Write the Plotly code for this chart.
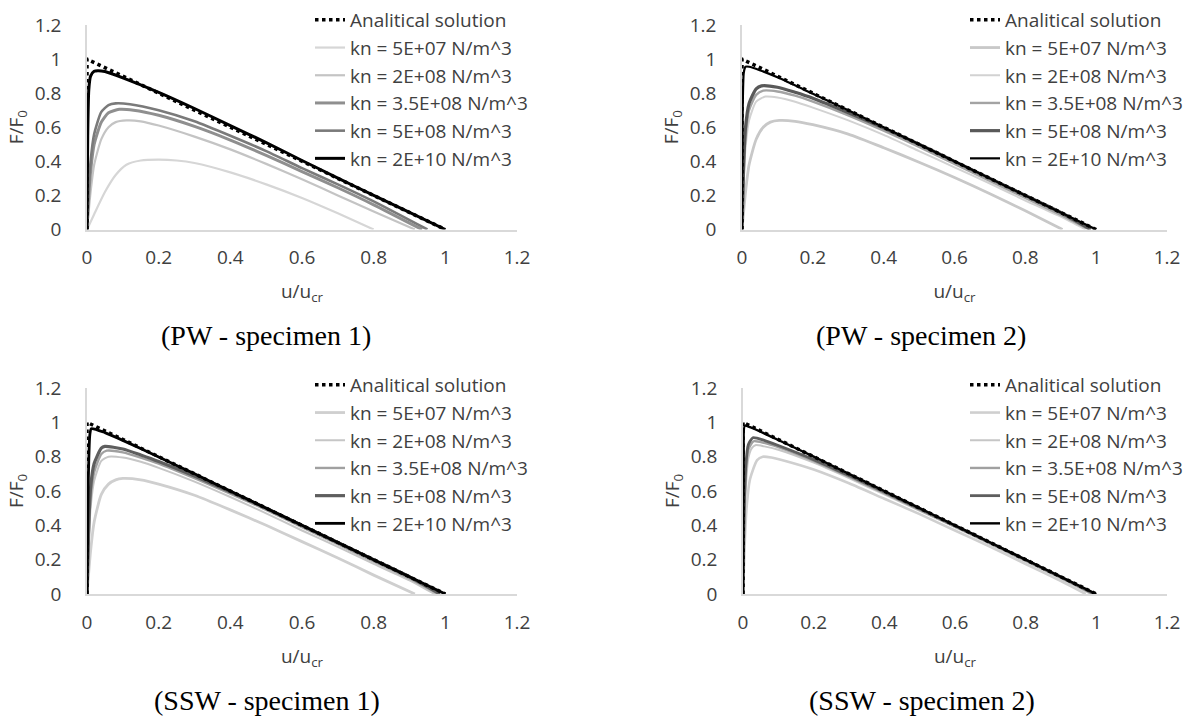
import plotly.graph_objects as go

# ---------------- data (u/u_cr , F/F0) ----------------
SERIES_NAMES = ["kn = 5E+07 N/m^3", "kn = 2E+08 N/m^3", "kn = 3.5E+08 N/m^3",
                "kn = 5E+08 N/m^3", "kn = 2E+10 N/m^3"]
ANALYTIC_NAME = "Analitical solution"
ANALYTIC_X = [0, 0, 1]
ANALYTIC_Y = [0, 1, 0]

TICK_VALUES = [0, 0.2, 0.4, 0.6, 0.8, 1, 1.2]
TICK_LABELS = ["0", "0.2", "0.4", "0.6", "0.8", "1", "1.2"]
CAPTIONS = ["(PW - specimen 1)", "(PW - specimen 2)",
            "(SSW - specimen 1)", "(SSW - specimen 2)"]

# PW - specimen 1
PW1_5E07_X = [0, 0.02, 0.05, 0.08, 0.11, 0.15, 0.2, 0.25, 0.3, 0.4, 0.5, 0.6, 0.7, 0.8]
PW1_5E07_Y = [0, 0.09, 0.22, 0.32, 0.38, 0.405, 0.41, 0.405, 0.39, 0.335, 0.265, 0.185, 0.095, 0]
PW1_2E08_X = [0, 0.01, 0.02, 0.04, 0.06, 0.08, 0.11, 0.15, 0.2, 0.3, 0.4, 0.5, 0.6, 0.7, 0.8, 0.915]
PW1_2E08_Y = [0, 0.22, 0.38, 0.53, 0.6, 0.63, 0.64, 0.635, 0.61, 0.545, 0.47, 0.385, 0.295, 0.2, 0.105, 0]
PW1_35E08_X = [0, 0.005, 0.01, 0.02, 0.04, 0.06, 0.09, 0.13, 0.2, 0.3, 0.4, 0.5, 0.6, 0.7, 0.8, 0.935]
PW1_35E08_Y = [0, 0.2, 0.34, 0.5, 0.63, 0.685, 0.705, 0.7, 0.67, 0.605, 0.525, 0.435, 0.34, 0.245, 0.145, 0]
PW1_5E08_X = [0, 0.005, 0.01, 0.02, 0.04, 0.06, 0.08, 0.12, 0.2, 0.3, 0.4, 0.5, 0.6, 0.7, 0.8, 0.95]
PW1_5E08_Y = [0, 0.25, 0.4, 0.56, 0.69, 0.73, 0.74, 0.735, 0.7, 0.635, 0.55, 0.46, 0.36, 0.265, 0.165, 0]
PW1_2E10_X = [0, 0.002, 0.005, 0.01, 0.02, 0.03, 0.05, 0.1, 0.2, 0.3, 0.4, 0.5, 0.6, 0.7, 0.8, 0.9, 1.0]
PW1_2E10_Y = [0, 0.55, 0.82, 0.9, 0.928, 0.932, 0.927, 0.89, 0.805, 0.71, 0.61, 0.51, 0.405, 0.302, 0.2, 0.1, 0]

# PW - specimen 2
PW2_5E07_X = [0, 0.01, 0.02, 0.04, 0.06, 0.08, 0.105, 0.15, 0.2, 0.3, 0.4, 0.5, 0.6, 0.7, 0.8, 0.905]
PW2_5E07_Y = [0, 0.22, 0.38, 0.53, 0.6, 0.63, 0.64, 0.635, 0.615, 0.56, 0.48, 0.395, 0.305, 0.21, 0.11, 0]
PW2_2E08_X = [0, 0.005, 0.01, 0.02, 0.04, 0.066, 0.1, 0.15, 0.2, 0.3, 0.4, 0.5, 0.6, 0.7, 0.8, 0.9, 0.97]
PW2_2E08_Y = [0, 0.3, 0.48, 0.64, 0.75, 0.78, 0.775, 0.75, 0.715, 0.64, 0.555, 0.46, 0.365, 0.27, 0.17, 0.075, 0]
PW2_35E08_X = [0, 0.005, 0.01, 0.02, 0.04, 0.06, 0.1, 0.15, 0.2, 0.3, 0.4, 0.5, 0.6, 0.7, 0.8, 0.9, 0.98]
PW2_35E08_Y = [0, 0.35, 0.54, 0.7, 0.79, 0.815, 0.81, 0.785, 0.75, 0.67, 0.58, 0.485, 0.385, 0.285, 0.185, 0.085, 0]
PW2_5E08_X = [0, 0.005, 0.01, 0.02, 0.04, 0.055, 0.1, 0.15, 0.2, 0.3, 0.4, 0.5, 0.6, 0.7, 0.8, 0.9, 0.985]
PW2_5E08_Y = [0, 0.4, 0.6, 0.74, 0.825, 0.843, 0.835, 0.805, 0.77, 0.685, 0.595, 0.5, 0.4, 0.3, 0.2, 0.1, 0]
PW2_2E10_X = [0, 0.002, 0.005, 0.01, 0.02, 0.05, 0.1, 0.2, 0.3, 0.4, 0.5, 0.6, 0.7, 0.8, 0.9, 1.0]
PW2_2E10_Y = [0, 0.7, 0.92, 0.955, 0.955, 0.935, 0.893, 0.797, 0.7, 0.6, 0.5, 0.4, 0.3, 0.2, 0.1, 0]

# SSW - specimen 1
SSW1_5E07_X = [0, 0.01, 0.02, 0.04, 0.06, 0.08, 0.1, 0.15, 0.2, 0.3, 0.4, 0.5, 0.6, 0.7, 0.8, 0.915]
SSW1_5E07_Y = [0, 0.25, 0.42, 0.58, 0.64, 0.665, 0.673, 0.665, 0.64, 0.575, 0.49, 0.4, 0.305, 0.21, 0.11, 0]
SSW1_2E08_X = [0, 0.005, 0.01, 0.02, 0.04, 0.06, 0.1, 0.15, 0.2, 0.3, 0.4, 0.5, 0.6, 0.7, 0.8, 0.9, 0.97]
SSW1_2E08_Y = [0, 0.3, 0.5, 0.66, 0.775, 0.8, 0.795, 0.77, 0.735, 0.655, 0.565, 0.47, 0.37, 0.275, 0.175, 0.08, 0]
SSW1_35E08_X = [0, 0.005, 0.01, 0.02, 0.04, 0.055, 0.1, 0.15, 0.2, 0.3, 0.4, 0.5, 0.6, 0.7, 0.8, 0.9, 0.98]
SSW1_35E08_Y = [0, 0.35, 0.56, 0.71, 0.815, 0.835, 0.825, 0.795, 0.76, 0.675, 0.585, 0.49, 0.39, 0.29, 0.19, 0.09, 0]
SSW1_5E08_X = [0, 0.005, 0.01, 0.02, 0.04, 0.05, 0.1, 0.15, 0.2, 0.3, 0.4, 0.5, 0.6, 0.7, 0.8, 0.9, 0.985]
SSW1_5E08_Y = [0, 0.4, 0.62, 0.76, 0.85, 0.86, 0.845, 0.81, 0.772, 0.687, 0.595, 0.5, 0.4, 0.3, 0.2, 0.1, 0]
SSW1_2E10_X = [0, 0.003, 0.008, 0.012, 0.05, 0.1, 0.2, 0.3, 0.4, 0.5, 0.6, 0.7, 0.8, 0.9, 1.0]
SSW1_2E10_Y = [0, 0.6, 0.93, 0.963, 0.94, 0.895, 0.798, 0.7, 0.6, 0.5, 0.4, 0.3, 0.2, 0.1, 0]

# SSW - specimen 2
SSW2_5E07_X = [0, 0.005, 0.01, 0.02, 0.04, 0.056, 0.08, 0.12, 0.2, 0.3, 0.4, 0.5, 0.6, 0.7, 0.8, 0.9, 0.97]
SSW2_5E07_Y = [0, 0.3, 0.5, 0.67, 0.78, 0.8, 0.795, 0.775, 0.725, 0.645, 0.555, 0.465, 0.37, 0.275, 0.175, 0.075, 0]
SSW2_2E08_X = [0, 0.003, 0.008, 0.015, 0.025, 0.035, 0.06, 0.1, 0.2, 0.3, 0.4, 0.5, 0.6, 0.7, 0.8, 0.9, 0.985]
SSW2_2E08_Y = [0, 0.35, 0.62, 0.79, 0.85, 0.867, 0.86, 0.84, 0.765, 0.675, 0.58, 0.485, 0.39, 0.29, 0.19, 0.09, 0]
SSW2_35E08_X = [0, 0.003, 0.008, 0.015, 0.03, 0.06, 0.1, 0.2, 0.3, 0.4, 0.5, 0.6, 0.7, 0.8, 0.9, 0.99]
SSW2_35E08_Y = [0, 0.4, 0.7, 0.84, 0.89, 0.88, 0.855, 0.775, 0.683, 0.588, 0.49, 0.393, 0.295, 0.195, 0.095, 0]
SSW2_5E08_X = [0, 0.003, 0.008, 0.015, 0.028, 0.06, 0.1, 0.2, 0.3, 0.4, 0.5, 0.6, 0.7, 0.8, 0.9, 0.995]
SSW2_5E08_Y = [0, 0.45, 0.75, 0.87, 0.91, 0.895, 0.865, 0.783, 0.69, 0.594, 0.496, 0.398, 0.299, 0.199, 0.099, 0]
SSW2_2E10_X = [0, 0.002, 0.005, 0.02, 0.05, 0.1, 0.2, 0.3, 0.4, 0.5, 0.6, 0.7, 0.8, 0.9, 1.0]
SSW2_2E10_Y = [0, 0.8, 0.98, 0.972, 0.945, 0.897, 0.8, 0.7, 0.6, 0.5, 0.4, 0.3, 0.2, 0.1, 0]

PANEL_DATA = [
    [(PW1_5E07_X, PW1_5E07_Y), (PW1_2E08_X, PW1_2E08_Y), (PW1_35E08_X, PW1_35E08_Y),
     (PW1_5E08_X, PW1_5E08_Y), (PW1_2E10_X, PW1_2E10_Y)],
    [(PW2_5E07_X, PW2_5E07_Y), (PW2_2E08_X, PW2_2E08_Y), (PW2_35E08_X, PW2_35E08_Y),
     (PW2_5E08_X, PW2_5E08_Y), (PW2_2E10_X, PW2_2E10_Y)],
    [(SSW1_5E07_X, SSW1_5E07_Y), (SSW1_2E08_X, SSW1_2E08_Y), (SSW1_35E08_X, SSW1_35E08_Y),
     (SSW1_5E08_X, SSW1_5E08_Y), (SSW1_2E10_X, SSW1_2E10_Y)],
    [(SSW2_5E07_X, SSW2_5E07_Y), (SSW2_2E08_X, SSW2_2E08_Y), (SSW2_35E08_X, SSW2_35E08_Y),
     (SSW2_5E08_X, SSW2_5E08_Y), (SSW2_2E10_X, SSW2_2E10_Y)],
]

# ---------------- styling ----------------
# (colour, width) per series, per panel
PANEL_STYLES = [
    [("#d6d6d6", 2.2), ("#c4c4c4", 2.2), ("#8f8f8f", 3.0), ("#7a7a7a", 2.6), ("#000000", 3.0)],
    [("#c8c8c8", 2.8), ("#d2d2d2", 2.0), ("#a3a3a3", 2.4), ("#595959", 3.2), ("#000000", 2.2)],
    [("#cfcfcf", 2.8), ("#c6c6c6", 2.0), ("#a0a0a0", 2.4), ("#5e5e5e", 3.2), ("#000000", 2.8)],
    [("#cfcfcf", 2.6), ("#c6c6c6", 2.0), ("#a0a0a0", 2.4), ("#5e5e5e", 2.8), ("#000000", 2.4)],
]

FONT = "Open Sans"
FONT_SIZE = 19
TEXT_COLOR = "#404040"
AXIS_COLOR = "#d9d9d9"
W, H = 1195, 717

# pixel boxes of the plot areas: (x0, x1, ytop, ybottom)
BOXES = [(87, 517, 25, 229.5), (742, 1167, 25, 229.5),
         (87, 517, 388, 594), (743, 1167, 388, 594)]
LEGEND_POS = [(310, 1), (965, 1), (310, 366), (965, 366)]
CAPTION_POS = [(266, 335), (921, 335), (267, 700), (922, 700)]

fig = go.Figure()

for p in range(4):
    suffix = "" if p == 0 else str(p + 1)
    xref, yref = "x" + suffix, "y" + suffix
    legend_id = "legend" + suffix
    for s, ((xs, ys), (color, width)) in enumerate(zip(PANEL_DATA[p], PANEL_STYLES[p])):
        fig.add_trace(go.Scatter(
            x=xs, y=ys, mode="lines", name=SERIES_NAMES[s],
            line=dict(color=color, width=width, shape="spline", smoothing=0.6),
            xaxis=xref, yaxis=yref, legend=legend_id, legendrank=s + 2,
            hoverinfo="skip",
        ))
    fig.add_trace(go.Scatter(
        x=ANALYTIC_X, y=ANALYTIC_Y, mode="lines", name=ANALYTIC_NAME,
        line=dict(color="#000000", width=3.5, dash="dot"),
        xaxis=xref, yaxis=yref, legend=legend_id, legendrank=1,
        hoverinfo="skip",
    ))

    x0, x1, yt, yb = BOXES[p]
    label_font = dict(family=FONT, size=FONT_SIZE, color=TEXT_COLOR)
    axis_common = dict(
        range=[0, 1.2], tickmode="array", tickvals=TICK_VALUES, ticktext=TICK_LABELS,
        showline=True, linecolor=AXIS_COLOR, linewidth=1.5, showgrid=False,
        zeroline=False, ticks="", tickfont=label_font,
        automargin=False, fixedrange=True,
    )
    fig.update_layout(**{
        "xaxis" + suffix: dict(
            axis_common, domain=[x0 / W, x1 / W], anchor=yref,
            ticklabelstandoff=10,
            title=dict(text="u/u<sub>cr</sub>", font=label_font, standoff=16),
        ),
        "yaxis" + suffix: dict(
            axis_common, domain=[1 - yb / H, 1 - yt / H], anchor=xref,
            ticklabelstandoff=20,
            title=dict(text="F/F<sub>0</sub>", font=label_font, standoff=6),
        ),
        legend_id: dict(
            x=LEGEND_POS[p][0] / W, y=1 - LEGEND_POS[p][1] / H, xanchor="left", yanchor="top",
            bgcolor="rgba(0,0,0,0)", font=label_font, traceorder="normal",
        ),
    })
    fig.add_annotation(
        text=CAPTIONS[p], xref="paper", yref="paper",
        x=CAPTION_POS[p][0] / W, y=1 - CAPTION_POS[p][1] / H,
        xanchor="center", yanchor="middle", showarrow=False,
        font=dict(family="Liberation Serif", size=28, color="#000000"),
    )

fig.update_layout(
    width=W, height=H, margin=dict(l=0, r=0, t=0, b=0),
    paper_bgcolor="white", plot_bgcolor="white", showlegend=True,
)

fig.write_html("out.html")
